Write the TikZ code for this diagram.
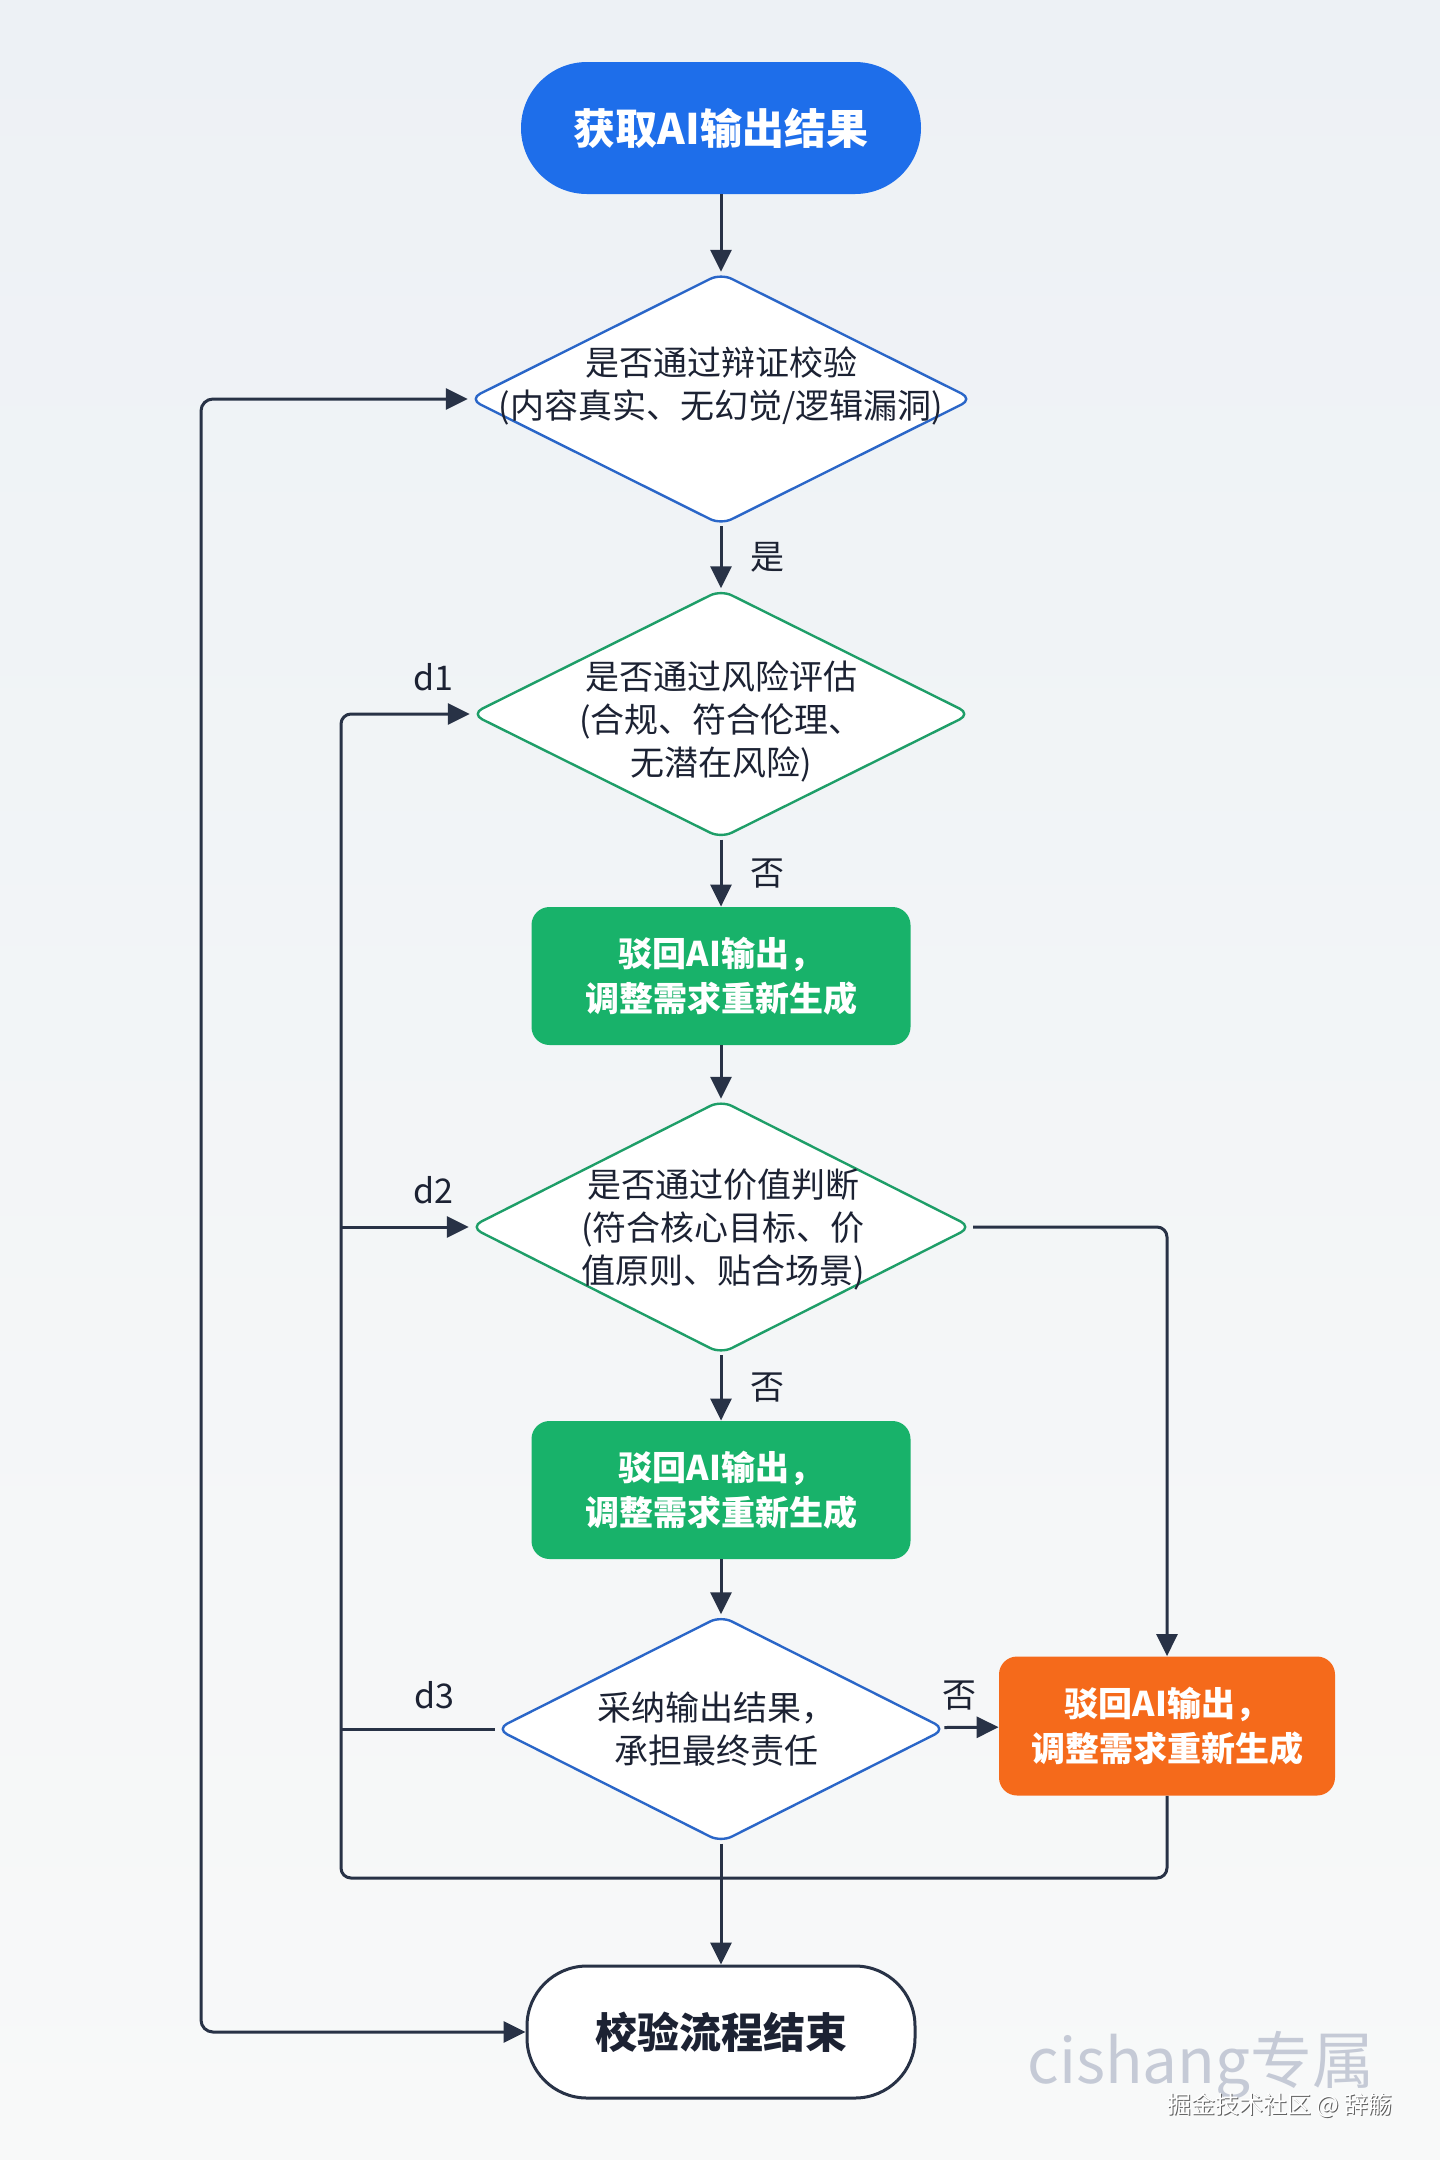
\documentclass[tikz,border=0pt]{standalone}
\usepackage{fontspec}
\setmainfont{Noto Sans CJK SC}
\usetikzlibrary{shapes.geometric,arrows.meta}
\definecolor{bgtop}{HTML}{EDF1F5}
\definecolor{bgbot}{HTML}{F8F9F9}
\definecolor{startblue}{HTML}{1E6EEA}
\definecolor{diablue}{HTML}{2A66C8}
\definecolor{diagreen}{HTML}{1E9E68}
\definecolor{boxgreen}{HTML}{18B26A}
\definecolor{boxorange}{HTML}{F56A1B}
\definecolor{ink}{HTML}{283246}
\definecolor{txt}{HTML}{1C2233}
\definecolor{wmark}{HTML}{C5CAD6}
\tikzset{
  conn/.style={draw=ink, line width=1.5pt},
  arr/.style={conn, -{Triangle[length=11pt,width=10.5pt]}},
  twoarr/.style={conn, {Triangle[length=11pt,width=10.5pt]}-{Triangle[length=11pt,width=10.5pt]}},
  dia/.style={shape=diamond, fill=white, line width=1.2pt, minimum width=252pt, minimum height=126pt, inner sep=0pt, rounded corners=6pt},
  ditext/.style={align=center, text=txt, font=\fontsize{17pt}{21.5pt}\selectfont, inner sep=0pt},
  pbox/.style={rectangle, rounded corners=9pt, minimum width=189.5pt, minimum height=69pt, text=white, align=center, font=\fontsize{17pt}{22.5pt}\selectfont\bfseries},
  lbl/.style={text=txt, font=\fontsize{17pt}{20pt}\selectfont, inner sep=0pt},
  termbox/.style={rectangle, minimum width=200pt, minimum height=66pt, rounded corners=33pt, font=\fontsize{21pt}{25pt}\selectfont\bfseries}
}
\begin{document}
\begin{tikzpicture}[x=0.5pt,y=-0.5pt]
\useasboundingbox (0,0) rectangle (1440,2160);
\shade[top color=bgtop, bottom color=bgbot] (0,0) rectangle (1440,2160);

% nodes
\node[termbox, fill=startblue, text=white] (start) at (721,128) {获取AI输出结果};

\node[dia, draw=diablue] (d1) at (721,399) {};
\node[ditext] (t1) at (721,386) {是否通过辩证校验\\(内容真实、无幻觉/逻辑漏洞)};

\node[dia, draw=diagreen, minimum height=124.5pt, minimum width=250pt] (d2) at (721,714) {};
\node[ditext] (t2) at (721,721) {是否通过风险评估\\(合规、符合伦理、\\无潜在风险)};

\node[pbox, fill=boxgreen] (b1) at (721,976) {驳回AI输出，\\调整需求重新生成};

\node[dia, draw=diagreen, minimum height=127pt, minimum width=251pt] (d3) at (721,1227) {};
\node[ditext] (t3) at (723,1229) {是否通过价值判断\\(符合核心目标、价\\值原则、贴合场景)};

\node[pbox, fill=boxgreen] (b2) at (721,1490) {驳回AI输出，\\调整需求重新生成};

\node[dia, draw=diablue, minimum height=113.5pt, minimum width=225pt] (d4) at (721,1729) {};
\node[ditext] (t4) at (716,1729) {采纳输出结果，\\承担最终责任};

\node[pbox, fill=boxorange, minimum width=168pt, minimum height=69.5pt] (ob) at (1167,1726) {驳回AI输出，\\调整需求重新生成};

\node[termbox, draw=ink, line width=1.5pt, fill=white, text=txt, minimum width=194pt, rounded corners=30pt] (end) at (721,2032) {校验流程结束};

% main flow
\draw[arr] (start) -- (d1);
\draw[arr] (d1) -- node[lbl, right=14pt] (lyes) {是} (d2);
\draw[arr] (d2) -- node[lbl, right=14pt] (lno1) {否} (b1);
\draw[arr] (b1) -- (d3);
\draw[arr] (d3) -- node[lbl, right=14pt] (lno2) {否} (b2);
\draw[arr] (b2) -- (d4);
\draw[arr] (d4) -- node[lbl, above=8pt, xshift=-6pt] (lno3) {否} (ob);
\draw[arr, rounded corners=5pt] (d3.east) -| (ob.north);
\draw[arr] (d4) -- (end);

% inner loop
\coordinate (cbl) at (341,1878);
\draw[arr, rounded corners=5pt] (ob.south) |- (cbl) -- (cbl |- d2.west) -- (d2.west);
\draw[arr] (cbl |- d3.west) -- (d3.west);
\draw[conn] (d4.west) -- (cbl |- d4.west);

% outer loop
\coordinate (obot) at (201,2032);
\coordinate (otop) at (201,399);
\draw[twoarr, rounded corners=6pt] (end.west) -- (obot) -- (otop) -- (d1.west);

% loop labels
\node[lbl] (ld1) at (433,677) {d1};
\node[lbl] (ld2) at (433,1190) {d2};
\node[lbl] (ld3) at (434,1695) {d3};

% watermark
\node[text=wmark, font=\fontsize{31pt}{34pt}\selectfont, inner sep=0pt] (wm) at (1201,2065) {cishang专属};
\node[text=gray!75!black, font=\fontsize{12pt}{14pt}\selectfont, inner sep=0pt] (wm2s) at (1281,2106) {掘金技术社区 @ 辞觞};
\node[text=white, font=\fontsize{12pt}{14pt}\selectfont, inner sep=0pt] (wm2) at (1280,2105) {掘金技术社区 @ 辞觞};
\end{tikzpicture}
\end{document}
